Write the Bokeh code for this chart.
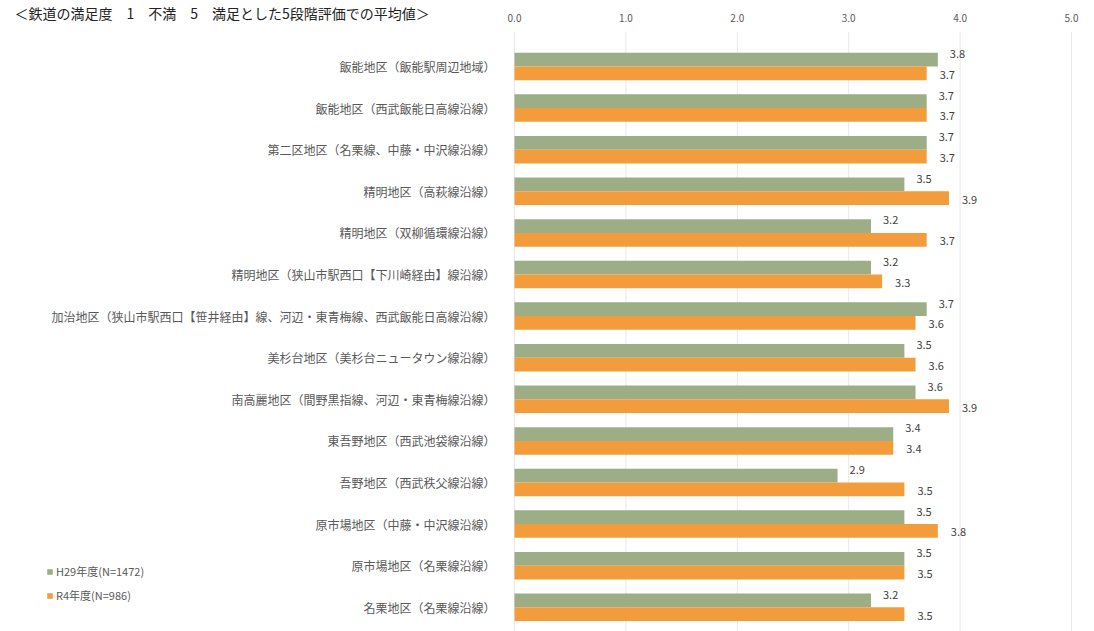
from bokeh.plotting import figure
from bokeh.models import Legend, LegendItem, ColumnDataSource, Label, Range1d
from bokeh.transform import dodge
from bokeh.core.properties import value
from bokeh.embed import file_html
from bokeh.resources import INLINE

title_text = "＜鉄道の満足度　1　不満　5　満足とした5段階評価での平均値＞"
categories = [
    "飯能地区（飯能駅周辺地域）",
    "飯能地区（西武飯能日高線沿線）",
    "第二区地区（名栗線、中藤・中沢線沿線）",
    "精明地区（高萩線沿線）",
    "精明地区（双柳循環線沿線）",
    "精明地区（狭山市駅西口【下川崎経由】線沿線）",
    "加治地区（狭山市駅西口【笹井経由】線、河辺・東青梅線、西武飯能日高線沿線）",
    "美杉台地区（美杉台ニュータウン線沿線）",
    "南高麗地区（間野黒指線、河辺・東青梅線沿線）",
    "東吾野地区（西武池袋線沿線）",
    "吾野地区（西武秩父線沿線）",
    "原市場地区（中藤・中沢線沿線）",
    "原市場地区（名栗線沿線）",
    "名栗地区（名栗線沿線）",
]
h29 = [3.8, 3.7, 3.7, 3.5, 3.2, 3.2, 3.7, 3.5, 3.6, 3.4, 2.9, 3.5, 3.5, 3.2]
r4 = [3.7, 3.7, 3.7, 3.9, 3.7, 3.3, 3.6, 3.6, 3.9, 3.4, 3.5, 3.8, 3.5, 3.5]
series_names = ["H29年度(N=1472)", "R4年度(N=986)"]
x_ticks = [0, 1, 2, 3, 4, 5]
x_tick_labels = ["0.0", "1.0", "2.0", "3.0", "4.0", "5.0"]

GREEN = "#9DAE87"
ORANGE = "#F39C3C"
FONT = "Noto Sans CJK JP"
W, H = 1094, 631
PX_X = 111.4          # pixels per unit on the value axis
X0 = 514              # screen x of value 0
PX_Y = 41.6           # pixels per category
Y0 = 66               # screen y of the first category centre

ypos = list(range(len(categories)))
n = len(categories)

src = ColumnDataSource(dict(
    cat=categories, y=ypos, h29=h29, r4=r4,
    h29_lbl=[f"{v:.1f}" for v in h29],
    r4_lbl=[f"{v:.1f}" for v in r4],
))

p = figure(width=W, height=H, output_backend="svg", toolbar_location=None,
           x_range=Range1d(-X0 / PX_X, (W - X0) / PX_X),
           y_range=Range1d((n - 1) + (H - Y0 - (n - 1) * PX_Y) / PX_Y, -Y0 / PX_Y),
           min_border=0)
p.axis.visible = False
p.grid.visible = False
p.outline_line_color = None

# vertical grid lines over the plot area
p.segment(x0=x_ticks, x1=x_ticks, y0=[-0.5 - 14 / PX_Y] * len(x_ticks), y1=[n] * len(x_ticks),
          line_color="#E8E8E8", line_width=1)

g = p.hbar(y=dodge("y", -0.165), right="h29", left=0, height=0.33,
           source=src, color=GREEN, line_color=None)
o = p.hbar(y=dodge("y", 0.165), right="r4", left=0, height=0.33,
           source=src, color=ORANGE, line_color=None)

# data labels
p.text(x="h29", y=dodge("y", -0.3), text="h29_lbl", source=src,
       x_offset=12, text_baseline="middle", text_align="left", text_font_size="11px",
       text_color="#404040", text_font=value(FONT))
p.text(x="r4", y=dodge("y", 0.2), text="r4_lbl", source=src,
       x_offset=13, text_baseline="middle", text_align="left", text_font_size="11px",
       text_color="#404040", text_font=value(FONT))

# category labels
p.text(x=0, y="y", text="cat", source=src, x_offset=-19, text_align="right",
       text_baseline="middle", text_font_size="12px", text_color="#595959",
       text_font=value(FONT))

# value-axis tick labels along the top
p.text(x=x_ticks, y=[-Y0 / PX_Y] * len(x_ticks), text=x_tick_labels, y_offset=17,
       text_align="center", text_baseline="middle", text_font_size="10px",
       text_color="#595959", text_font=value(FONT))

p.add_layout(Label(x=14, y=H - 2, x_units="screen", y_units="screen", text=title_text,
                   text_font_size="14px", text_color="#222222", text_font=FONT,
                   text_baseline="top"))

legend = Legend(items=[LegendItem(label=series_names[0], renderers=[g]),
                       LegendItem(label=series_names[1], renderers=[o])],
                location=(46, 26), margin=0, padding=0, spacing=4,
                glyph_width=7, glyph_height=7, label_height=20,
                label_text_font_size="11px", label_text_color="#595959",
                label_text_font=FONT, border_line_color=None,
                background_fill_alpha=0, label_standoff=3)
p.add_layout(legend, "center")

open("out.html", "w").write(file_html(p, INLINE))
